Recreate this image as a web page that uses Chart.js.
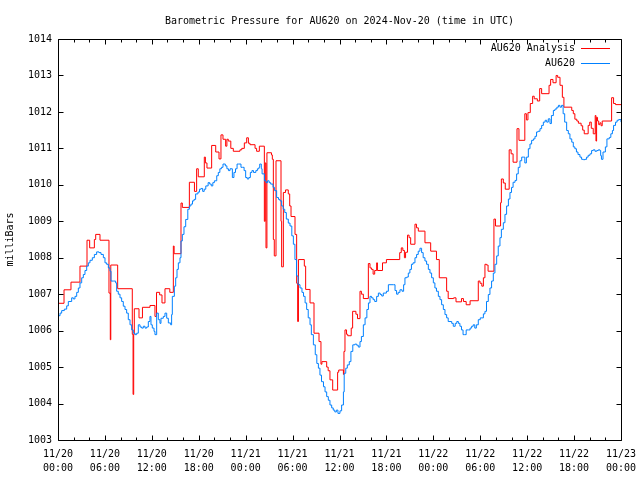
<!DOCTYPE html>
<html>
<head>
<meta charset="utf-8">
<title>Barometric Pressure AU620</title>
<script src="https://cdn.jsdelivr.net/npm/chart.js@4.4.1/dist/chart.umd.min.js"></script>
<style>
  html, body { margin: 0; padding: 0; background: #fff; }
  canvas { display: block; }
</style>
</head>
<body>
<canvas id="grafico" width="640" height="480"></canvas>
<script>
// hours since 11/20 00:00 UTC where the analysis value changes
const redHours = [
  0, 0.77, 1.66, 2.81, 3.71, 4.05, 4.65, 4.82, 5.37, 6.52,
  6.69, 6.75, 7.63, 9.5, 9.6, 9.68, 9.76, 10.36, 10.8, 11.76,
  12.4, 12.6, 13.0, 13.3, 13.68, 14.3, 14.75, 14.85, 15.73, 15.9,
  16.8, 17.45, 17.73, 17.94, 18.71, 18.85, 19.05, 19.65, 20.17, 20.59,
  20.84, 21.1, 21.44, 21.6, 21.78, 22.1, 22.42, 23.27, 23.5, 23.83,
  24.13, 24.35, 24.55, 25.2, 25.4, 25.75, 26.39, 26.5, 26.6, 26.72,
  27.3, 27.41, 27.54, 27.66, 27.88, 28.52, 28.6, 28.82, 29.1, 29.45,
  29.63, 29.8, 30.31, 30.52, 30.65, 30.75, 31.5, 31.67, 32.23, 32.74,
  33.38, 33.63, 33.75, 34.36, 34.55, 34.78, 35.13, 35.76, 35.9, 36.5,
  36.57, 36.7, 36.9, 37.05, 37.5, 37.68, 38.1, 38.3, 38.62, 38.8,
  39.05, 39.69, 39.9, 40.1, 40.3, 40.5, 40.75, 40.85, 41.5, 42.0,
  43.7, 43.9, 44.1, 44.3, 44.45, 44.7, 44.9, 45.1, 45.65, 45.85,
  46.08, 46.93, 47.66, 48.4, 48.76, 49.7, 49.9, 50.6, 50.9, 51.6,
  51.85, 52.2, 52.7, 53.75, 53.97, 54.2, 54.4, 54.6, 54.8, 55.0,
  55.75, 55.95, 56.6, 56.7, 56.95, 57.2, 57.7, 57.95, 58.2, 58.7,
  58.95, 59.7, 59.9, 60.1, 60.4, 60.7, 60.9, 61.3, 61.6, 61.85,
  62.8, 63.0, 63.3, 63.7, 63.9, 64.2, 64.5, 64.7, 65.7, 65.9,
  66.1, 66.35, 66.55, 66.9, 67.1, 67.3, 67.8, 68.0, 68.2, 68.45,
  68.7, 68.8, 68.88, 69.0, 69.15, 69.3, 69.45, 69.6, 70.8, 71.05,
  71.3, 72
];
const redPressure = [
  1006.75, 1007.12, 1007.33, 1007.77, 1008.48, 1008.27, 1008.5, 1008.64, 1008.48, 1007.03,
  1005.75, 1007.8, 1007.15, 1005.9, 1004.25, 1005.9, 1006.6, 1006.35, 1006.64, 1006.69,
  1006.39, 1007.05, 1006.98, 1006.76, 1007.15, 1007.05, 1008.32, 1008.11, 1009.5, 1009.38,
  1010.07, 1009.82, 1010.44, 1010.22, 1010.76, 1010.6, 1010.46, 1011.08, 1010.9, 1010.71,
  1011.37, 1011.25, 1011.06, 1011.25, 1011.2, 1011.0, 1010.92, 1010.96, 1011.0, 1011.15,
  1011.29, 1011.14, 1011.1, 1011.0, 1010.92, 1011.06, 1009.0, 1010.6, 1008.27, 1010.88,
  1010.82, 1010.7, 1008.5, 1008.05, 1010.66, 1009.0, 1007.75, 1009.79, 1009.86, 1009.75,
  1009.42, 1009.13, 1008.64, 1007.3, 1006.25, 1007.95, 1007.77, 1007.13, 1006.76, 1005.93,
  1005.7, 1005.08, 1005.15, 1005.0, 1004.9, 1004.65, 1004.37, 1004.86, 1004.92, 1004.8,
  1005.43, 1006.02, 1005.9, 1005.86, 1006.07, 1006.53, 1006.45, 1006.33, 1007.08, 1007.0,
  1006.88, 1007.84, 1007.72, 1007.68, 1007.55, 1007.65, 1007.86, 1007.65, 1007.86, 1007.95,
  1008.14, 1008.27, 1008.2, 1008.0, 1008.15, 1008.62, 1008.55, 1008.37, 1008.92, 1008.82,
  1008.73, 1008.41, 1008.18, 1007.95, 1007.45, 1007.08, 1006.88, 1006.9, 1006.79, 1006.88,
  1006.8, 1006.71, 1006.82, 1007.36, 1007.3, 1007.22, 1007.45, 1007.82, 1007.8, 1007.63,
  1009.06, 1008.87, 1009.51, 1010.16, 1010.05, 1009.88, 1010.96, 1010.85, 1010.62, 1011.54,
  1011.22, 1011.95, 1011.78, 1011.98, 1012.23, 1012.43, 1012.36, 1012.3, 1012.64, 1012.5,
  1012.73, 1012.89, 1012.8, 1013.0, 1012.95, 1012.73, 1012.4, 1012.13, 1012.04, 1011.95,
  1011.8, 1011.75, 1011.69, 1011.62, 1011.5, 1011.4, 1011.63, 1011.72, 1011.55, 1011.4,
  1011.9, 1011.2, 1011.85, 1011.75, 1011.65, 1011.7, 1011.62, 1011.75, 1012.39, 1012.23,
  1012.2, 1012.2
];

const blueHours = [
  0, 0.26, 0.47, 0.81, 1.11, 1.32, 1.75, 1.96, 2.17, 2.39,
  2.6, 2.81, 3.03, 3.24, 3.45, 3.67, 3.88, 4.09, 4.39, 4.65,
  4.94, 5.24, 5.5, 5.8, 6.01, 6.22, 6.44, 6.65, 6.78, 7.08,
  7.37, 7.5, 7.71, 7.93, 8.14, 8.35, 8.57, 8.78, 8.99, 9.21,
  9.42, 9.63, 9.85, 10.06, 10.27, 10.49, 10.7, 10.91, 11.13, 11.34,
  11.55, 11.76, 11.89, 12.06, 12.28, 12.4, 12.62, 12.83, 13.04, 13.17,
  13.47, 13.68, 13.9, 14.11, 14.41, 14.53, 14.62, 14.88, 15.05, 15.22,
  15.39, 15.6, 15.73, 15.9, 16.11, 16.33, 16.6, 16.8, 17.0, 17.2,
  17.4, 17.6, 17.9, 18.1, 18.3, 18.5, 18.7, 18.9, 19.2, 19.4,
  19.6, 19.8, 20.0, 20.3, 20.5, 20.7, 20.9, 21.1, 21.4, 21.6,
  21.8, 22.0, 22.3, 22.5, 22.7, 22.9, 23.1, 23.4, 23.6, 23.8,
  24.0, 24.2, 24.4, 24.6, 24.8, 25.0, 25.3, 25.5, 25.7, 25.8,
  26.0, 26.1, 26.4, 26.6, 26.8, 27.0, 27.2, 27.5, 27.7, 27.96,
  28.2, 28.39, 28.6, 28.8, 29.0, 29.2, 29.45, 29.67, 29.9, 30.1,
  30.3, 30.5, 30.7, 30.95, 31.2, 31.4, 31.6, 31.8, 32.0, 32.23,
  32.4, 32.66, 32.9, 33.1, 33.3, 33.5, 33.7, 33.95, 34.15, 34.36,
  34.57, 34.78, 35.0, 35.2, 35.4, 35.6, 35.8, 36.06, 36.27, 36.5,
  36.6, 36.8, 37.0, 37.25, 37.46, 37.7, 37.96, 38.2, 38.4, 38.62,
  38.8, 39.05, 39.27, 39.5, 39.7, 39.9, 40.1, 40.3, 40.5, 40.75,
  40.97, 41.2, 41.4, 41.6, 42.0, 42.25, 42.9, 43.1, 43.3, 43.5,
  43.73, 44.0, 44.2, 44.37, 44.6, 44.8, 45.0, 45.2, 45.4, 45.65,
  45.86, 46.07, 46.29, 46.5, 46.7, 46.93, 47.14, 47.36, 47.57, 47.78,
  48.0, 48.2, 48.4, 48.64, 48.85, 49.06, 49.28, 49.49, 49.7, 49.9,
  50.13, 50.35, 50.55, 50.8, 51.0, 51.2, 51.4, 51.6, 51.8, 52.0,
  52.2, 52.5, 52.7, 52.9, 53.1, 53.3, 53.5, 53.75, 54.0, 54.4,
  54.6, 54.8, 55.03, 55.24, 55.45, 55.67, 55.88, 56.1, 56.3, 56.52,
  56.7, 56.95, 57.16, 57.37, 57.6, 57.8, 58.0, 58.2, 58.45, 58.65,
  58.86, 59.08, 59.3, 59.5, 59.7, 59.9, 60.15, 60.36, 60.57, 60.8,
  61.0, 61.2, 61.4, 61.64, 61.85, 62.07, 62.3, 62.5, 62.7, 62.92,
  63.1, 63.35, 63.56, 63.8, 64.0, 64.19, 64.4, 64.6, 64.8, 65.05,
  65.26, 65.47, 65.7, 65.9, 66.1, 66.3, 66.5, 66.75, 66.96, 67.18,
  67.4, 67.6, 67.8, 68.03, 68.24, 68.45, 68.67, 68.9, 69.1, 69.3,
  69.4, 69.5, 69.7, 70.0, 70.2, 70.5, 70.7, 70.9, 71.05, 71.3,
  71.5, 71.7, 72.0
];
const bluePressure = [
  1006.41, 1006.48, 1006.55, 1006.59, 1006.68, 1006.8, 1006.9, 1006.87, 1006.94, 1007.05,
  1007.17, 1007.31, 1007.45, 1007.54, 1007.65, 1007.77, 1007.86, 1007.93, 1008.0, 1008.09,
  1008.16, 1008.14, 1008.09, 1008.0, 1007.86, 1007.82, 1007.72, 1007.63, 1007.36, 1007.36,
  1007.31, 1007.08, 1007.0, 1006.9, 1006.8, 1006.67, 1006.58, 1006.48, 1006.3, 1006.16,
  1006.02, 1005.93, 1005.89, 1005.93, 1006.16, 1006.1, 1006.07, 1006.12, 1006.07, 1006.1,
  1006.25, 1006.39, 1006.16, 1006.07, 1005.98, 1005.89, 1006.48, 1006.3, 1006.2, 1006.34,
  1006.39, 1006.48, 1006.34, 1006.21, 1006.16, 1006.44, 1006.94, 1007.22, 1007.45, 1007.68,
  1007.86, 1008.0, 1008.46, 1008.64, 1008.85, 1009.05, 1009.33, 1009.42, 1009.47, 1009.56,
  1009.6, 1009.75, 1009.8, 1009.88, 1009.9, 1009.82, 1009.88, 1009.97, 1010.06, 1010.02,
  1009.97, 1010.06, 1010.11, 1010.25, 1010.34, 1010.44, 1010.48, 1010.57, 1010.52, 1010.44,
  1010.39, 1010.44, 1010.2, 1010.34, 1010.44, 1010.57, 1010.57, 1010.48, 1010.48, 1010.39,
  1010.2, 1010.16, 1010.2, 1010.34, 1010.39, 1010.34, 1010.39, 1010.44, 1010.48, 1010.57,
  1010.44, 1010.3, 1010.11, 1010.06, 1010.11, 1010.06, 1010.02, 1009.93, 1009.84, 1009.65,
  1009.6, 1009.56, 1009.42, 1009.33, 1009.24, 1009.06, 1008.95, 1008.87, 1008.6, 1008.37,
  1007.95, 1007.5, 1007.26, 1007.17, 1007.05, 1006.94, 1006.76, 1006.58, 1006.35, 1006.16,
  1005.89, 1005.61, 1005.34, 1005.1, 1004.97, 1004.78, 1004.6, 1004.46, 1004.32, 1004.19,
  1004.09, 1003.96, 1003.88, 1003.82, 1003.77, 1003.82, 1003.73, 1003.8, 1003.96, 1004.32,
  1004.83, 1004.97, 1005.06, 1005.15, 1005.43, 1005.61, 1005.63, 1005.6, 1005.55, 1005.7,
  1005.84, 1006.16, 1006.35, 1006.58, 1006.76, 1006.94, 1006.9, 1006.85, 1006.8, 1006.94,
  1007.03, 1006.99, 1006.95, 1007.03, 1007.08, 1007.26, 1007.26, 1007.1, 1007.0, 1007.05,
  1007.12, 1007.08, 1007.26, 1007.45, 1007.47, 1007.58, 1007.68, 1007.82, 1007.86, 1008.0,
  1008.09, 1008.18, 1008.26, 1008.14, 1008.0, 1007.91, 1007.82, 1007.68, 1007.58, 1007.45,
  1007.31, 1007.17, 1007.08, 1006.94, 1006.85, 1006.71, 1006.58, 1006.44, 1006.35, 1006.25,
  1006.25, 1006.2, 1006.12, 1006.2, 1006.25, 1006.2, 1006.12, 1006.02, 1005.89, 1005.89,
  1006.02, 1006.02, 1006.07, 1006.12, 1006.16, 1006.07, 1006.16, 1006.3, 1006.35, 1006.46,
  1006.53, 1006.8, 1006.99, 1007.17, 1007.36, 1007.58, 1007.82, 1008.05, 1008.32, 1008.55,
  1008.78, 1008.96, 1009.19, 1009.42, 1009.61, 1009.79, 1009.93, 1010.07, 1010.12, 1010.3,
  1010.48, 1010.66, 1010.76, 1010.76, 1010.6, 1010.76, 1010.99, 1011.12, 1011.22, 1011.26,
  1011.33, 1011.45, 1011.47, 1011.54, 1011.63, 1011.72, 1011.77, 1011.72, 1011.81, 1011.68,
  1011.9, 1012.04, 1012.08, 1012.13, 1012.18, 1012.13, 1012.18, 1011.95, 1011.72, 1011.49,
  1011.4, 1011.26, 1011.17, 1011.04, 1010.99, 1010.9, 1010.83, 1010.76, 1010.7, 1010.69,
  1010.7, 1010.76, 1010.81, 1010.85, 1010.94, 1010.96, 1010.92, 1010.94, 1010.96, 1010.94,
  1010.8, 1010.7, 1010.9, 1011.04, 1011.26, 1011.3, 1011.4, 1011.49, 1011.63, 1011.72,
  1011.77, 1011.79, 1011.72
];

const xTickDates = ['11/20', '11/20', '11/20', '11/20', '11/21', '11/21', '11/21', '11/21', '11/22', '11/22', '11/22', '11/22', '11/23'];
const xTickTimes = ['00:00', '06:00', '12:00', '18:00', '00:00', '06:00', '12:00', '18:00', '00:00', '06:00', '12:00', '18:00', '00:00'];
const yMin = 1003;
const yMax = 1014;

const fonte = "'DejaVu Sans Mono', 'Liberation Mono', monospace";
Chart.defaults.font.family = fonte;
Chart.defaults.font.size = 10;
Chart.defaults.color = '#000';

function pontos(horas, valores) {
  return horas.map((h, i) => ({ x: h, y: valores[i] }));
}

// gnuplot style frame, inward ticks and legend inside the plot
const moldura = {
  id: 'moldura',
  afterDatasetsDraw(chart) {
    const { ctx, chartArea: a, scales: { x, y } } = chart;
    const L = Math.round(a.left) + 0.5, R = Math.round(a.right) + 0.5;
    const T = Math.round(a.top) + 0.5, B = Math.round(a.bottom) + 0.5;
    ctx.save();
    ctx.strokeStyle = '#000';
    ctx.lineWidth = 1;
    ctx.beginPath();
    ctx.rect(L, T, R - L, B - T);
    x.ticks.forEach(t => {
      const px = Math.round(x.getPixelForValue(t.value)) + 0.5;
      const len = t.value % 6 === 0 ? 5 : 3;
      ctx.moveTo(px, B); ctx.lineTo(px, B - len);
      ctx.moveTo(px, T); ctx.lineTo(px, T + len);
    });
    y.ticks.forEach(t => {
      const py = Math.round(y.getPixelForValue(t.value)) + 0.5;
      ctx.moveTo(L, py); ctx.lineTo(L + 5, py);
      ctx.moveTo(R, py); ctx.lineTo(R - 5, py);
    });
    ctx.stroke();

    ctx.font = '10px ' + fonte;
    ctx.fillStyle = '#000';
    ctx.textAlign = 'right';
    ctx.textBaseline = 'middle';
    chart.data.datasets.forEach((ds, i) => {
      const ly = Math.round(a.top + 9 + i * 15) + 0.5;
      ctx.fillText(ds.label, a.right - 46, ly);
      ctx.strokeStyle = ds.borderColor;
      ctx.beginPath();
      ctx.moveTo(a.right - 40, ly);
      ctx.lineTo(a.right - 11, ly);
      ctx.stroke();
    });
    ctx.restore();
  }
};

const ctx = document.getElementById('grafico').getContext('2d');
const grafico = new Chart(ctx, {
  type: 'line',
  data: {
    datasets: [
      {
        label: 'AU620 Analysis',
        data: pontos(redHours, redPressure),
        borderColor: 'rgb(255, 0, 0)',
        borderWidth: 1,
        stepped: true,
        pointRadius: 0,
        order: 1
      },
      {
        label: 'AU620',
        data: pontos(blueHours, bluePressure),
        borderColor: 'rgb(0, 128, 255)',
        borderWidth: 1,
        stepped: true,
        pointRadius: 0,
        order: 0
      }
    ]
  },
  options: {
    responsive: false,
    animation: false,
    layout: { autoPadding: false, padding: { left: 0, right: 19, top: 0, bottom: 0 } },
    plugins: {
      legend: { display: false },
      tooltip: { enabled: false },
      title: {
        display: true,
        fullSize: false,
        text: 'Barometric Pressure for AU620 on 2024-Nov-20 (time in UTC)',
        font: { family: fonte, size: 10, weight: 'normal' },
        color: '#000',
        padding: { top: 15, bottom: 12 }
      }
    },
    scales: {
      x: {
        type: 'linear',
        min: 0,
        max: 72,
        grid: { display: false, drawTicks: false },
        border: { display: false },
        ticks: {
          stepSize: 2,
          autoSkip: false,
          maxRotation: 0,
          padding: 8,
          font: { family: fonte, size: 10, lineHeight: 1.35 },
          callback: function (value) {
            if (value % 6 !== 0) return '';
            const i = value / 6;
            return [xTickDates[i], xTickTimes[i]];
          }
        },
        afterFit: function (scale) {
          scale.height = 40;
          scale.paddingLeft = 0;
          scale.paddingRight = 0;
        }
      },
      y: {
        min: yMin,
        max: yMax,
        grid: { display: false, drawTicks: false },
        border: { display: false },
        ticks: {
          stepSize: 1,
          padding: 6,
          callback: function (value) { return String(value); }
        },
        title: {
          display: true,
          text: 'milliBars',
          font: { family: fonte, size: 10 },
          padding: { top: 4, bottom: 0 }
        },
        afterFit: function (scale) { scale.width = 58; }
      }
    }
  },
  plugins: [moldura]
});
</script>
</body>
</html>
